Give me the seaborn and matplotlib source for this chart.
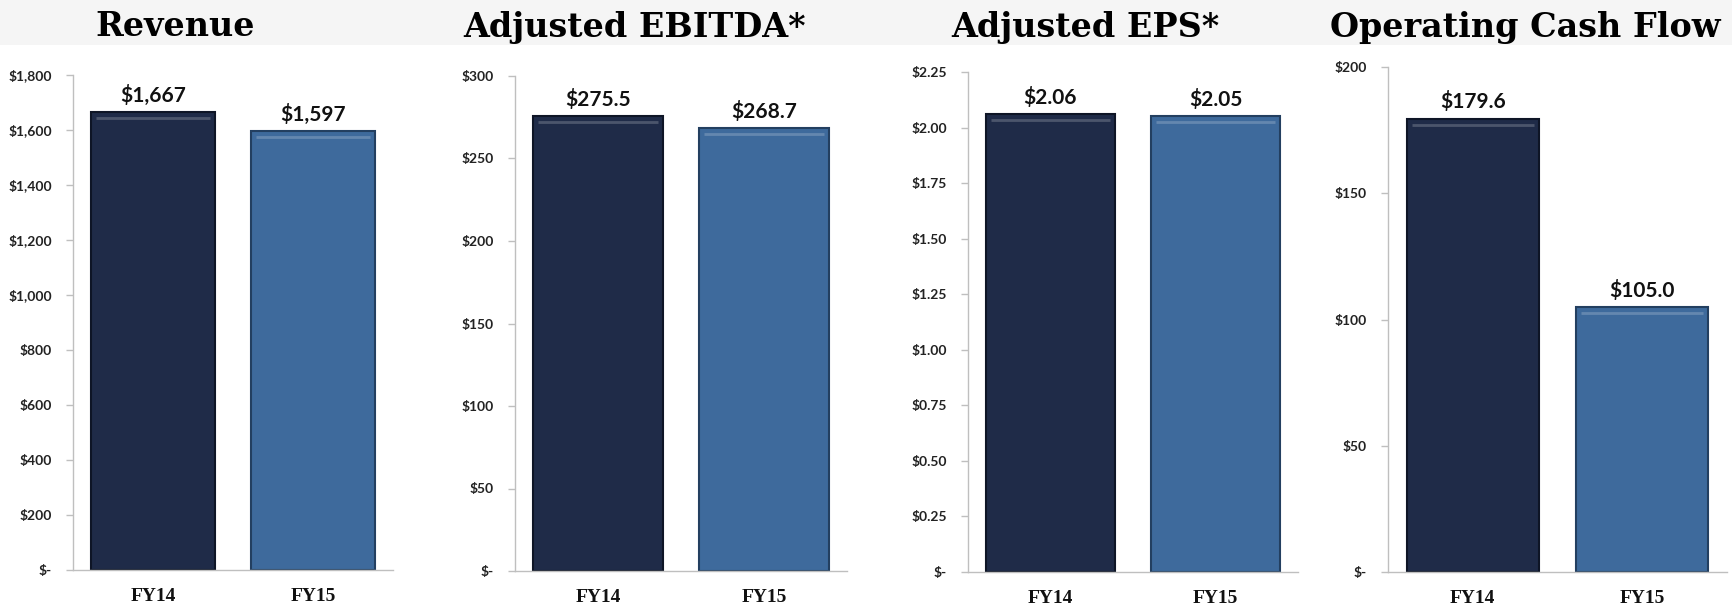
import matplotlib
matplotlib.use("Agg")
import matplotlib.pyplot as plt
import matplotlib.patches as mpatches
import seaborn as sns
import pandas as pd

# ---- data ----
years = ["FY14", "FY15"]
titles = ["Revenue", "Adjusted EBITDA*", "Adjusted EPS*", "Operating Cash Flow"]
revenue = [1667, 1597]
ebitda = [275.5, 268.7]
eps = [2.06, 2.05]
ocf = [179.6, 105.0]
value_labels = [["$1,667", "$1,597"], ["$275.5", "$268.7"], ["$2.06", "$2.05"], ["$179.6", "$105.0"]]
yticks = [
    [0, 200, 400, 600, 800, 1000, 1200, 1400, 1600, 1800],
    [0, 50, 100, 150, 200, 250, 300],
    [0, 0.25, 0.5, 0.75, 1.0, 1.25, 1.5, 1.75, 2.0, 2.25],
    [0, 50, 100, 150, 200],
]
ytick_labels = [
    ["$-", "$200", "$400", "$600", "$800", "$1,000", "$1,200", "$1,400", "$1,600", "$1,800"],
    ["$-", "$50", "$100", "$150", "$200", "$250", "$300"],
    ["$-", "$0.25", "$0.50", "$0.75", "$1.00", "$1.25", "$1.50", "$1.75", "$2.00", "$2.25"],
    ["$-", "$50", "$100", "$150", "$200"],
]
series = [revenue, ebitda, eps, ocf]

colors = ["#1f2b48", "#3e6a9c"]
edge_colors = ["#0e1526", "#233f60"]

sns.set_theme(style="white")
plt.rcParams["font.family"] = ["Lato", "DejaVu Sans"]

W, H = 1732, 607
fig = plt.figure(figsize=(W / 100, H / 100), dpi=100)
fig.patch.set_facecolor("white")

# light title band
fig.add_artist(mpatches.Rectangle((0, 1 - 45 / H), 1, 45 / H, transform=fig.transFigure,
                                  facecolor="#f5f5f5", edgecolor="none", zorder=0))

# axes boxes in pixels: left, right, top(px), bottom(px)
boxes = [(73, 393, 75, 570), (515, 847, 76, 571), (968, 1298, 72, 572), (1388, 1727, 67, 572)]
title_x = [175, 635, 1085, 1525]

for i, (l, r, t, b) in enumerate(boxes):
    ax = fig.add_axes([l / W, 1 - b / H, (r - l) / W, (b - t) / H])
    df = pd.DataFrame({"year": years, "value": series[i]})
    sns.barplot(data=df, x="year", y="value", hue="year", palette=colors, ax=ax,
                width=0.78, legend=False, saturation=1)
    for j, p in enumerate(ax.patches):
        p.set_edgecolor(edge_colors[j])
        p.set_linewidth(1.5)
        # bevel highlight at top
        x0 = p.get_x()
        w = p.get_width()
        h = p.get_height()
        ymax = yticks[i][-1]
        ax.plot([x0 + w * 0.04, x0 + w * 0.96], [h - ymax * 0.012, h - ymax * 0.012],
                color="white", alpha=0.2, lw=2, solid_capstyle="butt")
        ax.text(x0 + w / 2, h + ymax * 0.012, value_labels[i][j], ha="center", va="bottom",
                fontsize=15, fontweight="bold", color="#111111")
    ax.set_xlim(-0.5, 1.5)
    ax.set_ylim(0, yticks[i][-1])
    ax.set_yticks(yticks[i])
    ax.set_yticklabels(ytick_labels[i], fontsize=10, fontweight="bold", color="#222222")
    ax.set_xticks([0, 1])
    ax.set_xticklabels(years, fontsize=14, fontweight="bold", color="#111111",
                       family=["Liberation Serif", "DejaVu Serif"])
    ax.set_xticks([-0.5, 0.5], minor=True)
    ax.tick_params(axis="x", which="major", length=0, pad=13)
    ax.tick_params(axis="x", which="minor", length=5, color="#bfbfbf", width=1)
    ax.tick_params(axis="y", which="major", length=5, color="#bfbfbf", width=1, pad=10, left=True)
    ax.set_xlabel("")
    ax.set_ylabel("")
    for s in ["top", "right"]:
        ax.spines[s].set_visible(False)
    for s in ["left", "bottom"]:
        ax.spines[s].set_color("#bfbfbf")
        ax.spines[s].set_linewidth(1)
    ax.set_facecolor("none")

    fig.text(title_x[i] / W, 1 - 27 / H, titles[i], ha="center", va="center",
             fontsize=24, fontweight="bold", color="#000000",
             family=["DejaVu Serif"])

fig.savefig("out.png", dpi=100)
